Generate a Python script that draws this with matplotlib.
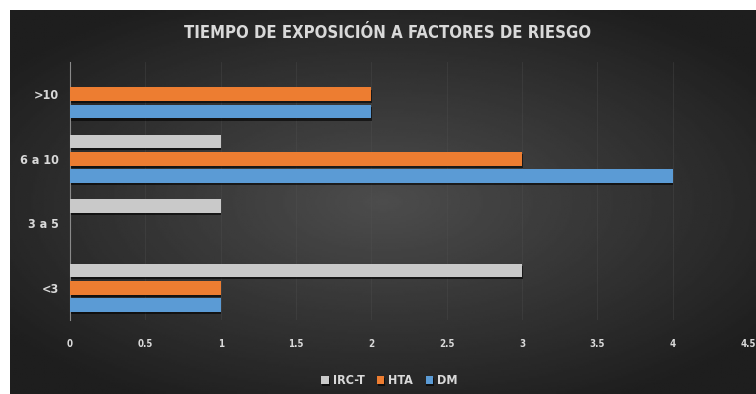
import matplotlib.pyplot as plt
import matplotlib.patheffects as pe
import numpy as np

categories = ['<3', '3 a 5', '6 a 10', '>10']
irc_t = [3, 1, 1, 0]
hta = [1, 0, 3, 2]
dm = [1, 0, 4, 2]
x_ticks = [0, 0.5, 1, 1.5, 2, 2.5, 3, 3.5, 4, 4.5]
x_tick_labels = ['0', '0.5', '1', '1.5', '2', '2.5', '3', '3.5', '4', '4.5']

font = ['DejaVu Sans']
text_col = '#d9d9d9'

fig = plt.figure(figsize=(7.56, 3.94), dpi=100)
fig.patch.set_facecolor('white')

# dark panel with a soft radial glow in the middle
bg = fig.add_axes([10 / 756, 0, 746 / 756, 384 / 394])
yy, xx = np.mgrid[-1:1:200j, -1:1:400j]
r = np.sqrt((xx * 0.85) ** 2 + (yy * 0.9) ** 2)
shade = np.clip(0.30 - 0.17 * r, 0.12, 0.30)
bg.imshow(shade, cmap='gray', vmin=0, vmax=1, aspect='auto', extent=[0, 1, 0, 1])
bg.set_axis_off()

ax = fig.add_axes([70 / 756, 74 / 394, 678 / 756, 258 / 394])
ax.set_facecolor('none')

y = np.arange(len(categories))
h = 0.21
step = 0.27
shadow = [pe.SimplePatchShadow(offset=(0.5, -1.5), shadow_rgbFace='black', alpha=0.6), pe.Normal()]
series = [(dm, -step, '#5b9bd5', 'DM'),
          (hta, 0, '#ed7d31', 'HTA'),
          (irc_t, step, '#c9c9c9', 'IRC-T')]
handles = {}
for vals, off, col, name in series:
    bars = ax.barh(y + off, vals, height=h, color=col, label=name, zorder=3)
    for b in bars:
        b.set_path_effects(shadow)
    handles[name] = bars

ax.set_xlim(0, 4.5)
ax.set_ylim(-0.5, 3.5)
ax.set_xticks(x_ticks)
ax.set_xticklabels(x_tick_labels)
ax.set_yticks(y)
ax.set_yticklabels(categories)
ax.tick_params(axis='both', length=0, colors=text_col)
ax.tick_params(axis='x', labelsize=7, pad=14)
ax.tick_params(axis='y', labelsize=9, pad=8)
for lbl in ax.get_xticklabels() + ax.get_yticklabels():
    lbl.set_family(font)
    lbl.set_stretch('condensed')
    lbl.set_fontweight('bold')

ax.grid(axis='x', color='#555555', linewidth=0.6, alpha=0.35, zorder=0)
for side in ['top', 'right', 'bottom']:
    ax.spines[side].set_visible(False)
ax.spines['left'].set_color('#8a8a8a')
ax.spines['left'].set_linewidth(0.8)

fig.text(0.512, 0.916, 'TIEMPO DE EXPOSICIÓN A FACTORES DE RIESGO', ha='center', va='center',
         color=text_col, fontsize=12, fontweight='bold', family=font, stretch='condensed')

leg = fig.legend([handles['IRC-T'], handles['HTA'], handles['DM']], ['IRC-T', 'HTA', 'DM'],
                 loc='center', bbox_to_anchor=(0.515, 0.033), ncol=3, frameon=False,
                 handlelength=0.6, handleheight=0.6, handletextpad=0.3, columnspacing=1.0,
                 prop={'family': font, 'size': 9, 'weight': 'bold', 'stretch': 'condensed'})
for t in leg.get_texts():
    t.set_color(text_col)

fig.savefig('out.png', dpi=100, facecolor=fig.get_facecolor())
